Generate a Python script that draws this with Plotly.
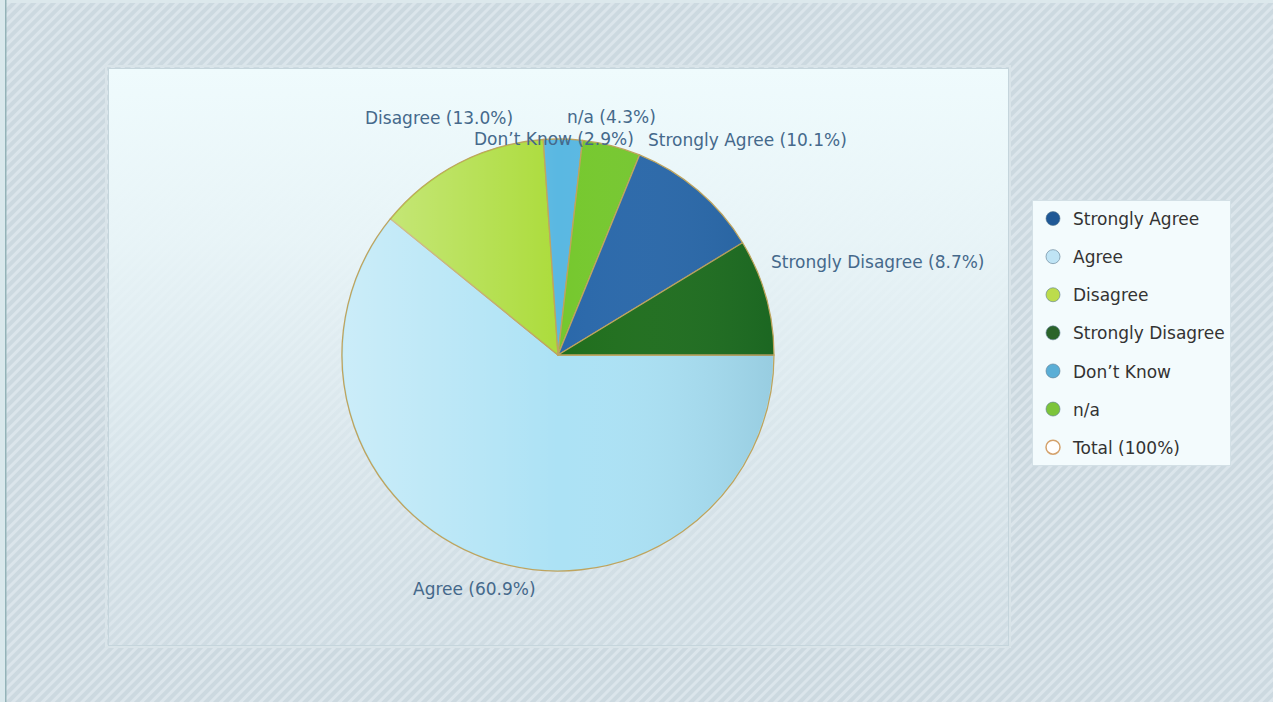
import base64
import math
import plotly.graph_objects as go

# Survey responses (counts), listed in legend order
categories = ["Strongly Agree", "Agree", "Disagree", "Strongly Disagree", "Don’t Know", "n/a"]
responses = [7, 42, 9, 6, 2, 3]
# Order in which the slices run clockwise from 3 o'clock
slice_order = ["Agree", "Disagree", "Don’t Know", "n/a", "Strongly Agree", "Strongly Disagree"]
total_label = "Total (100%)"

slice_colors = {
    "Strongly Agree": "#2a68aa",
    "Agree": "#ace2f5",
    "Disagree": "#acdc3c",
    "Strongly Disagree": "#1f6e1c",
    "Don’t Know": "#5ab8e2",
    "n/a": "#76c82e",
}
legend_colors = {
    "Strongly Agree": "#1f5896",
    "Agree": "#bfe4f5",
    "Disagree": "#bcdc4c",
    "Strongly Disagree": "#2a632a",
    "Don’t Know": "#5aaed6",
    "n/a": "#7cc43a",
}

W, H = 1273, 702
CX, CY, R = 558, 355, 216          # pie centre / radius in px

# small pixel nudges that keep neighbouring outside labels readable
label_nudge = {
    "Agree": (0, -2),
    "Disagree": (-4, -15),
    "Don’t Know": (-10, 34),
    "n/a": (-8, 4),
    "Strongly Agree": (27, -25),
    "Strongly Disagree": (79, -26),
}

value_of = dict(zip(categories, responses))
pie_values = [value_of[c] for c in slice_order]
total = sum(pie_values)


def to_paper(px, py):
    return px / W, 1 - py / H


def svg_uri(svg):
    return "data:image/svg+xml;base64," + base64.b64encode(svg.encode()).decode()


# page background: diagonal stripes, left rule and the framed panel
background_svg = f"""<svg xmlns="http://www.w3.org/2000/svg" width="{W}" height="{H}" viewBox="0 0 {W} {H}">
<defs>
<pattern id="st" width="7" height="7" patternUnits="userSpaceOnUse" patternTransform="rotate(45)">
<rect width="7" height="7" fill="#ccd9e0"/><rect width="3" height="7" fill="#dbe5eb"/></pattern>
<linearGradient id="pg" x1="0" y1="0" x2="0" y2="1">
<stop offset="0" stop-color="#effbfd" stop-opacity="1"/>
<stop offset="0.3" stop-color="#e9f5f8" stop-opacity="0.95"/>
<stop offset="1" stop-color="#dbe7ed" stop-opacity="0.25"/></linearGradient>
</defs>
<rect width="{W}" height="{H}" fill="url(#st)"/>
<rect x="0" y="0" width="{W}" height="3" fill="#dce8ec"/>
<rect x="0" y="0" width="5" height="{H}" fill="#d9e8ec"/>
<rect x="5" y="0" width="1.5" height="{H}" fill="#93b3b8"/>
<rect x="106" y="66" width="904" height="581" fill="none" stroke="#d9e4e9" stroke-width="2"/>
<rect x="108.5" y="68.5" width="900" height="577" fill="url(#pg)" stroke="#c5d5dc" stroke-width="1"/>
</svg>"""

# soft left-to-right shading laid over the pie
shade_svg = f"""<svg xmlns="http://www.w3.org/2000/svg" width="{2*R}" height="{2*R}" viewBox="0 0 {2*R} {2*R}">
<defs><linearGradient id="sh" x1="0" y1="0" x2="1" y2="0">
<stop offset="0" stop-color="#ffffff" stop-opacity="0.38"/>
<stop offset="0.5" stop-color="#ffffff" stop-opacity="0.0"/>
<stop offset="1" stop-color="#00304a" stop-opacity="0.12"/></linearGradient></defs>
<circle cx="{R}" cy="{R}" r="{R - 1}" fill="url(#sh)"/>
</svg>"""

fig = go.Figure()

x0, y_top = to_paper(CX - R, CY - R)
x1, y_bot = to_paper(CX + R, CY + R)

fig.add_trace(go.Pie(
    labels=slice_order,
    values=pie_values,
    sort=False,
    direction="clockwise",
    rotation=90,
    marker=dict(colors=[slice_colors[c] for c in slice_order],
                line=dict(color="#bea45e", width=1.3)),
    textinfo="none",
    hoverinfo="label+percent",
    showlegend=False,
    domain=dict(x=[x0, x1], y=[y_bot, y_top]),
))

# legend entries
for c in categories:
    fig.add_trace(go.Scatter(
        x=[None], y=[None], mode="markers", name=c, legendgroup=c,
        marker=dict(size=14, color=legend_colors[c], line=dict(color="#5a7a90", width=0.6)),
    ))
fig.add_trace(go.Scatter(
    x=[None], y=[None], mode="markers", name=total_label, legendgroup=total_label,
    marker=dict(size=14, color="#ffffff", line=dict(color="#d4a26c", width=1.5)),
))

# outside labels placed at each slice's mid angle
annotations = []
start = 0.0
for c, v in zip(slice_order, pie_values):
    span = 360.0 * v / total
    mid = math.radians(start - span / 2)
    start -= span
    r_lab = R + 34
    px = CX + r_lab * math.cos(mid) + label_nudge[c][0]
    py = CY - r_lab * math.sin(mid) + label_nudge[c][1]
    ax, ay = to_paper(px, py)
    annotations.append(dict(
        x=ax, y=ay, xref="paper", yref="paper", showarrow=False,
        xanchor="center", yanchor="middle",
        text=f"{c} ({100 * v / total:.1f}%)",
        font=dict(family="DejaVu Sans", size=17, color="#45698b"),
    ))

lx, ly = to_paper(1032, 200)

fig.update_layout(
    width=W, height=H,
    margin=dict(l=0, r=0, t=0, b=0),
    paper_bgcolor="#d3dfe6",
    plot_bgcolor="rgba(0,0,0,0)",
    xaxis=dict(visible=False),
    yaxis=dict(visible=False),
    font=dict(family="DejaVu Sans", size=17, color="#333333"),
    annotations=annotations,
    images=[
        dict(source=svg_uri(background_svg), xref="paper", yref="paper",
             x=0, y=1, sizex=1, sizey=1, xanchor="left", yanchor="top",
             sizing="stretch", layer="below"),
        dict(source=svg_uri(shade_svg), xref="paper", yref="paper",
             x=x0, y=y_top, sizex=x1 - x0, sizey=y_top - y_bot,
             xanchor="left", yanchor="top", sizing="stretch", layer="above"),
    ],
    legend=dict(
        x=lx, y=ly, xanchor="left", yanchor="top",
        bgcolor="#f3fbfd", bordercolor="#d3e0e6", borderwidth=1,
        font=dict(family="DejaVu Sans", size=17, color="#333333"),
        tracegroupgap=13,
    ),
)

fig.write_html("out.html")
